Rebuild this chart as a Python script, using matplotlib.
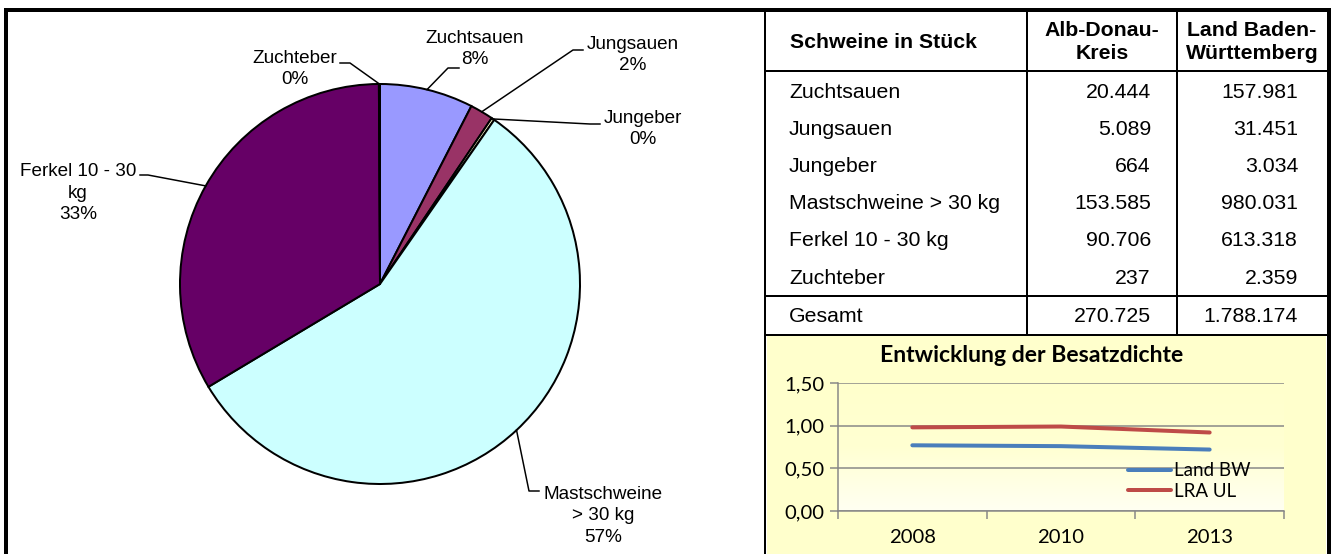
import numpy as np
import matplotlib
matplotlib.use("Agg")
import matplotlib.pyplot as plt
from matplotlib.ticker import FuncFormatter, FixedLocator
from matplotlib.colors import LinearSegmentedColormap

# ---------------- data ----------------
categories = ["Zuchtsauen", "Jungsauen", "Jungeber", "Mastschweine > 30 kg",
              "Ferkel 10 - 30 kg", "Zuchteber"]
pie_labels = ["Zuchtsauen", "Jungsauen", "Jungeber", "Mastschweine\n> 30 kg",
              "Ferkel 10 - 30\nkg", "Zuchteber"]
alb_donau = [20444, 5089, 664, 153585, 90706, 237]
land_bw = [157981, 31451, 3034, 980031, 613318, 2359]
col_headers = ["Schweine in Stück", "Alb-Donau-\nKreis", "Land Baden-\nWürttemberg"]
total_label = "Gesamt"

years = ["2008", "2010", "2013"]
density_bw = [0.77, 0.76, 0.72]
density_ul = [0.98, 0.99, 0.92]
density_labels = ["Land BW", "LRA UL"]
chart_title = "Entwicklung der Besatzdichte"
y_ticks = [0.0, 0.5, 1.0, 1.5]

pie_colors = ["#9999FF", "#993366", "#FFFFCC", "#CCFFFF", "#660066", "#FF8080"]

W, H = 1331, 554
DPI = 100
fig = plt.figure(figsize=(W / DPI, H / DPI), dpi=DPI)
fig.patch.set_facecolor("white")

# overlay axes in pixel coordinates (y from top converted)
ov = fig.add_axes([0, 0, 1, 1], zorder=0)
def Y(y):
    return H - y

PX = 72.0 / DPI  # points per pixel

def de(n):
    return f"{n:,}".replace(",", ".")

# ---------------- pie ----------------
cx, cy, R = 380, 284, 200
wedges, _ = ov.pie(alb_donau, colors=pie_colors, startangle=90, counterclock=False,
                   center=(cx, Y(cy)), radius=R,
                   wedgeprops=dict(edgecolor="black", linewidth=2 * PX))
ov.set_xlim(0, W)
ov.set_ylim(0, H)
ov.set_aspect("auto")
ov.axis("off")

# percent labels (largest remainder so that sum = 100)
tot = sum(alb_donau)
raw = [v / tot * 100 for v in alb_donau]
fl = [int(np.floor(r)) for r in raw]
rem = sorted(range(len(raw)), key=lambda i: raw[i] - fl[i], reverse=True)
for i in rem[:100 - sum(fl)]:
    fl[i] += 1
pct = fl

label_font = dict(family="Liberation Sans", fontsize=13.6, color="black")
# text centre, elbow, end (pixel layout)
label_layout = [
    ((475, 49), (448, 68), (459, 68)),
    ((633, 55), (573, 50), (583, 50)),
    ((643, 129), (590, 124), (600, 124)),
    ((603, 516), (529, 491), (539, 491)),
    ((78, 193), (148, 175), (140, 175)),
    ((295, 69), (350, 63), (340, 63)),
]
for w, lab, p, (tc, el, en) in zip(wedges, pie_labels, pct, label_layout):
    ang = np.deg2rad((w.theta1 + w.theta2) / 2)
    ex, ey = cx + R * np.cos(ang), Y(cy) + R * np.sin(ang)
    ov.plot([ex, el[0], en[0]], [ey, Y(el[1]), Y(en[1])], color="black",
            lw=1.5 * PX, zorder=5)
    ov.text(tc[0], Y(tc[1]), f"{lab}\n{p}%", ha="center", va="center",
            multialignment="center", linespacing=1.38, **label_font)

# ---------------- frame & table ----------------
ov.add_patch(plt.Rectangle((767, 0), 1326 - 767, Y(336), facecolor="#FFFFCC",
                           edgecolor="none", zorder=1))
thick = 4 * PX
thin = 2 * PX
lkw = dict(color="black", zorder=6, solid_capstyle="butt")
ov.plot([6, 6], [0, Y(10)], lw=thick, **lkw)
ov.plot([4, 1331], [Y(10), Y(10)], lw=thick, **lkw)
ov.plot([1328.5, 1328.5], [0, Y(10)], lw=thick, **lkw)
ov.plot([765, 765], [0, Y(10)], lw=thin, **lkw)
ov.plot([765, 1327], [Y(70.5), Y(70.5)], lw=thin, **lkw)
ov.plot([765, 1327], [Y(296), Y(296)], lw=thin, **lkw)
ov.plot([765, 1327], [Y(334.5), Y(334.5)], lw=thin, **lkw)
for xv in (1027, 1177):
    ov.plot([xv, xv], [Y(10), Y(334.5)], lw=thin, **lkw)

tab_font = dict(family="Liberation Sans", fontsize=15.3, color="black")
ov.text(790, Y(42), col_headers[0], ha="left", va="center", fontweight="bold", **tab_font)
ov.text(1102, Y(42), col_headers[1], ha="center", va="center", fontweight="bold",
        multialignment="center", linespacing=1.3, **tab_font)
ov.text(1252, Y(42), col_headers[2], ha="center", va="center", fontweight="bold",
        multialignment="center", linespacing=1.3, **tab_font)
row_y0, row_dy = 92, 37.2
for i, (c, a, b) in enumerate(zip(categories, alb_donau, land_bw)):
    yy = Y(row_y0 + i * row_dy)
    ov.text(789, yy, c, ha="left", va="center", **tab_font)
    ov.text(1151, yy, de(a), ha="right", va="center", **tab_font)
    ov.text(1298, yy, de(b), ha="right", va="center", **tab_font)
yy = Y(316)
ov.text(789, yy, total_label, ha="left", va="center", **tab_font)
ov.text(1151, yy, de(sum(alb_donau)), ha="right", va="center", **tab_font)
ov.text(1298, yy, de(sum(land_bw)), ha="right", va="center", **tab_font)

# ---------------- line chart ----------------
lx0, lx1, ly0, ly1 = 838, 1284, 383, 511
ax = fig.add_axes([lx0 / W, (H - ly1) / H, (lx1 - lx0) / W, (ly1 - ly0) / H], zorder=2)
ax.patch.set_alpha(0)
cmap = LinearSegmentedColormap.from_list("g", ["#FFFFCC", "#FFFFD2", "#FFFFF2"])
grad = np.linspace(0, 1, 256).reshape(-1, 1)
ax.imshow(grad, cmap=cmap, extent=(-0.5, 2.5, 0.0, 1.5), origin="upper",
          aspect="auto", zorder=0)
xs = np.arange(len(years))
ax.plot(xs, density_bw, color="#4A7EBB", lw=4 * PX, solid_capstyle="round",
        label=density_labels[0], zorder=3)
ax.plot(xs, density_ul, color="#BE4B48", lw=4 * PX, solid_capstyle="round",
        label=density_labels[1], zorder=3)
ax.set_xlim(-0.5, 2.5)
ax.set_ylim(0, 1.5)
ax.set_yticks(y_ticks)
ax.yaxis.set_major_formatter(FuncFormatter(lambda v, p: f"{v:.2f}".replace(".", ",")))
ax.set_xticks(xs)
ax.set_xticklabels(years)
ax.xaxis.set_minor_locator(FixedLocator([-0.5, 0.5, 1.5, 2.5]))
ax.tick_params(axis="x", which="major", length=0, pad=13)
ax.tick_params(axis="x", which="minor", length=6, color="#868686", width=1.5 * PX, direction="out")
ax.tick_params(axis="y", length=6, color="#868686", width=1.5 * PX, pad=4)
ax.grid(axis="y", color="#868686", lw=1.5 * PX, zorder=1)
ax.set_axisbelow(True)
for s in ("top", "right"):
    ax.spines[s].set_visible(False)
for s in ("left", "bottom"):
    ax.spines[s].set_color("#868686")
    ax.spines[s].set_linewidth(1.5 * PX)
for lab in ax.get_xticklabels() + ax.get_yticklabels():
    lab.set_family("Lato")
    lab.set_fontsize(14.6)
    lab.set_color("black")
leg = ax.legend(loc="center left", bbox_to_anchor=(1128 / W, (H - 481) / H),
                bbox_transform=fig.transFigure, frameon=False,
                prop=dict(family="Lato", size=13.5), handlelength=2.3,
                handletextpad=0.15, labelspacing=0.2, borderpad=0, borderaxespad=0)
fig.text(1032 / W, (H - 355) / H, chart_title, ha="center", va="center",
         family="Lato", fontweight="bold", fontsize=16.6, color="black", zorder=3)

fig.savefig("out.png", dpi=DPI)
